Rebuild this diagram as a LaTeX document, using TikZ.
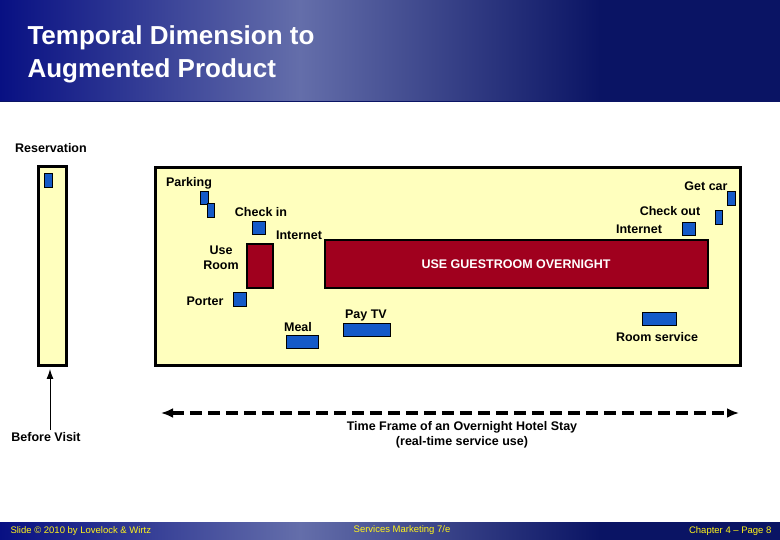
\documentclass[tikz,border=0pt]{standalone}
\usepackage{fontspec}
\setmainfont{Liberation Sans}
\usetikzlibrary{arrows.meta}
\definecolor{navy}{RGB}{10,20,100}
\definecolor{midb}{RGB}{100,110,170}
\definecolor{ylw}{RGB}{255,255,190}
\definecolor{blu}{RGB}{20,90,200}
\definecolor{rd}{RGB}{160,0,30}
\begin{document}
\begin{tikzpicture}[x=1pt,y=-1pt,
 lbl/.style={font=\bfseries\fontsize{12.5}{15}\selectfont,inner sep=0pt,align=center},
 bsq/.style={fill=blu,draw=black,line width=0.8pt},
 rbox/.style={fill=rd,draw=black,line width=1.2pt},
 frame/.style={fill=ylw,draw=black,line width=3pt}]
\useasboundingbox (0,0) rectangle (780,540);
\shade[left color=navy!80!blue,right color=midb] (0,0) rectangle (300,102);
\shade[left color=midb,right color=navy] (300,0) rectangle (600,102);
\fill[navy] (600,0) rectangle (780,102);
\draw[navy,line width=1pt] (0,102) -- (780,102);
\shade[left color=navy!80!blue,right color=midb] (0,522) rectangle (300,540);
\shade[left color=midb,right color=navy] (300,522) rectangle (600,540);
\fill[navy] (600,522) rectangle (780,540);
\node[anchor=west,text=white,font=\bfseries\fontsize{26}{33}\selectfont,align=left] (title) at (24,54) {Temporal Dimension to\\Augmented Product};
\node[anchor=west,text=yellow!90!white,font=\fontsize{9.5}{11}\selectfont] (f1) at (7,531) {Slide © 2010 by Lovelock \& Wirtz};
\node[text=yellow!90!white,font=\fontsize{9.5}{11}\selectfont] (f2) at (402,530) {Services Marketing 7/e};
\node[anchor=east,text=yellow!90!white,font=\fontsize{9.5}{11}\selectfont] (f3) at (775,531) {Chapter 4 -- Page 8};
\node[lbl] (res) at (51,148) {Reservation};
\draw[frame] (38,167) rectangle (66,366);
\draw[bsq] (44,173) rectangle (52,187);
\draw[frame] (155,168) rectangle (740,366);
\coordinate (pretop) at (50,369);
\node[lbl] (bv) at (46,437) {Before Visit};
\draw[-{Latex[length=10pt,width=7pt]},line width=1pt] (50,430) -- (pretop);
% services
\draw[bsq] (200,191) rectangle (208,204);
\draw[bsq] (207,203) rectangle (214,217);
\draw[bsq] (252,221) rectangle (265,234);
\draw[rbox] (247,244) rectangle (273,288);
\draw[rbox] (325,240) rectangle (708,288);
\draw[bsq] (233,292) rectangle (246,306);
\draw[bsq] (286,335) rectangle (318,348);
\draw[bsq] (343,323) rectangle (390,336);
\draw[bsq] (642,312) rectangle (676,325);
\draw[bsq] (682,222) rectangle (695,235);
\draw[bsq] (715,210) rectangle (722,224);
\draw[bsq] (727,191) rectangle (735,205);
\node[lbl] (park) at (189,183) {Parking};
\node[lbl] (getcar) at (706,186) {Get car};
\node[lbl] (chin) at (261,212) {Check in};
\node[lbl] (int1) at (299,235) {Internet};
\node[lbl] (chout) at (670,211) {Check out};
\node[lbl] (int2) at (639,229) {Internet};
\node[lbl] (useroom) at (221,258) {Use\\Room};
\node[lbl,text=white] (guest) at (516,264) {USE GUESTROOM OVERNIGHT};
\node[lbl] (porter) at (205,301) {Porter};
\node[lbl] (meal) at (298,327) {Meal};
\node[lbl] (paytv) at (366,315) {Pay TV};
\node[lbl] (rs) at (657,337) {Room service};
\coordinate (dl) at (161,413);
\coordinate (dr) at (739,413);
\draw[{Latex[length=12pt,width=10pt]}-{Latex[length=12pt,width=10pt]},line width=3.5pt,dash pattern=on 12pt off 6pt] (dl) -- (dr);
\node[lbl] (tf) at (462,434.5) {Time Frame of an Overnight Hotel Stay\\(real-time service use)};
\end{tikzpicture}
\end{document}
